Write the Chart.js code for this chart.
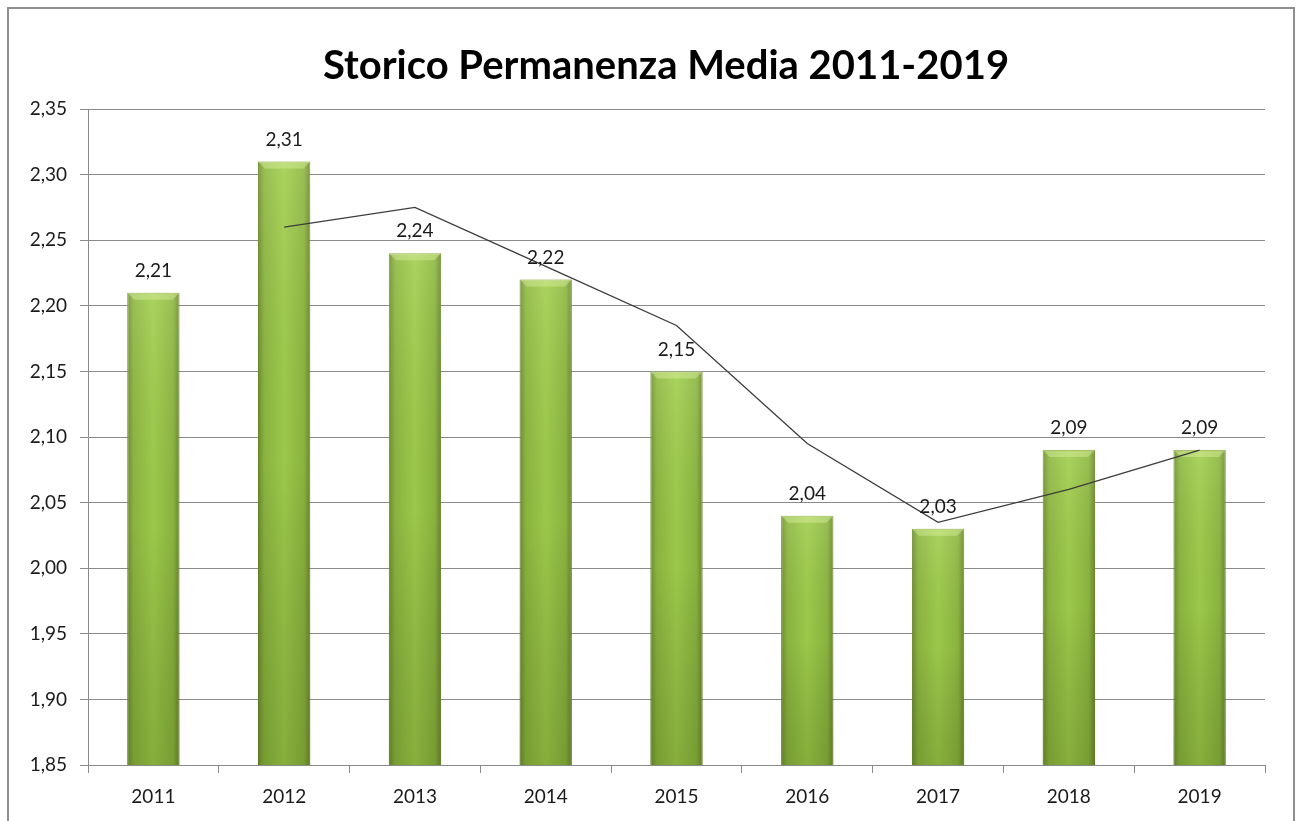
<!DOCTYPE html>
<html>
<head>
<meta charset="utf-8">
<script src="https://cdn.jsdelivr.net/npm/chart.js@4.4.1/dist/chart.umd.min.js"></script>
<style>
  html, body { margin: 0; padding: 0; background: #fff; overflow: hidden; }
  #wrap { position: relative; width: 1297px; height: 821px; }
  #frame { position: absolute; left: 7px; top: 7px; width: 1284px; height: 840px;
           border: 2px solid #8e8e8e; pointer-events: none; }
</style>
</head>
<body>
<div id="wrap">
  <canvas id="chart" width="1297" height="821"></canvas>
  <div id="frame"></div>
</div>
<script>
// categories and values
var years = ['2011', '2012', '2013', '2014', '2015', '2016', '2017', '2018', '2019'];
var permanenza = [2.21, 2.31, 2.24, 2.22, 2.15, 2.04, 2.03, 2.09, 2.09];
// moving average (2 periods)
var mediaMobile = [null, 2.26, 2.275, 2.23, 2.185, 2.095, 2.035, 2.06, 2.09];
var titolo = 'Storico Permanenza Media 2011-2019';

var fmt = function(v) { return v.toFixed(2).replace('.', ','); };
var FONT = 'Lato, "Liberation Sans", sans-serif';

// horizontal "cylinder" gradient for each bar
function barFill(context) {
  var chart = context.chart;
  var xs = chart.scales.x;
  if (!xs || !chart.chartArea) return '#8fb843';
  var cx = xs.getPixelForValue(context.dataIndex);
  var half = (xs.width / years.length) * 0.4 / 2;
  var g = chart.ctx.createLinearGradient(cx - half, 0, cx + half, 0);
  g.addColorStop(0, '#6f8f2e');
  g.addColorStop(0.12, '#8eb841');
  g.addColorStop(0.5, '#a0cf4c');
  g.addColorStop(0.88, '#8eb841');
  g.addColorStop(1, '#6b8a2c');
  return g;
}

// darkens bars toward the bottom and adds a light bevel on top
var barShade = {
  id: 'barShade',
  afterDatasetDraw: function(chart, args) {
    if (args.index !== 0) return;
    var c = chart.ctx;
    var bottom = chart.chartArea.bottom;
    args.meta.data.forEach(function(bar) {
      var l = bar.x - bar.width / 2, w = bar.width;
      var b = Math.min(bar.base, bottom);
      var g = c.createLinearGradient(0, bar.y, 0, b);
      g.addColorStop(0, 'rgba(255,255,255,0.10)');
      g.addColorStop(0.5, 'rgba(0,0,0,0.03)');
      g.addColorStop(1, 'rgba(40,60,0,0.22)');
      c.save();
      c.fillStyle = g;
      c.fillRect(l, bar.y, w, b - bar.y);
      c.fillStyle = 'rgba(220,240,160,0.45)';
      c.beginPath();
      c.moveTo(l, bar.y);
      c.lineTo(l + w, bar.y);
      c.lineTo(l + w - 7, bar.y + 7);
      c.lineTo(l + 7, bar.y + 7);
      c.closePath();
      c.fill();
      c.restore();
    });
  }
};

// value labels above the bars, and the title
var textPlugin = {
  id: 'textPlugin',
  afterDatasetsDraw: function(chart) {
    var c = chart.ctx;
    var meta = chart.getDatasetMeta(0);
    c.save();
    c.font = '19px ' + FONT;
    c.fillStyle = '#1a1a1a';
    c.textAlign = 'center';
    c.textBaseline = 'middle';
    meta.data.forEach(function(bar, i) {
      c.fillText(fmt(permanenza[i]), bar.x, bar.y - 22);
    });
    c.font = 'bold 40px ' + FONT;
    c.fillStyle = '#000';
    c.fillText(titolo, 666, 66);
    c.restore();
  }
};

new Chart(document.getElementById('chart'), {
  type: 'bar',
  data: {
    labels: years,
    datasets: [{
      type: 'bar',
      data: permanenza,
      backgroundColor: barFill,
      borderColor: '#6a8a2b',
      borderWidth: 1,
      barPercentage: 0.4,
      categoryPercentage: 1,
      order: 1
    }, {
      type: 'line',
      data: mediaMobile,
      borderColor: '#3c3c3c',
      borderWidth: 1.3,
      pointRadius: 0,
      tension: 0,
      fill: false,
      order: 0
    }]
  },
  options: {
    responsive: false,
    animation: false,
    layout: { padding: { left: 0, right: 32, bottom: 0, top: 109 } },
    plugins: {
      legend: { display: false },
      tooltip: { enabled: false },
      title: { display: false }
    },
    scales: {
      y: {
        min: 1.85,
        max: 2.35,
        afterFit: function(s) { s.width = 88; },
        ticks: {
          stepSize: 0.05,
          color: '#1a1a1a',
          padding: 13,
          font: { family: FONT, size: 19 },
          callback: function(v) { return fmt(v); }
        },
        grid: { color: '#8a8a8a', lineWidth: 1, tickLength: 8 },
        border: { color: '#8a8a8a' }
      },
      x: {
        afterFit: function(s) { s.height = 56; },
        ticks: {
          color: '#1a1a1a',
          padding: 12,
          font: { family: FONT, size: 19 }
        },
        grid: { drawOnChartArea: false, drawTicks: true, tickLength: 8, color: '#8a8a8a' },
        border: { color: '#8a8a8a' }
      }
    }
  },
  plugins: [barShade, textPlugin]
});
</script>
</body>
</html>
